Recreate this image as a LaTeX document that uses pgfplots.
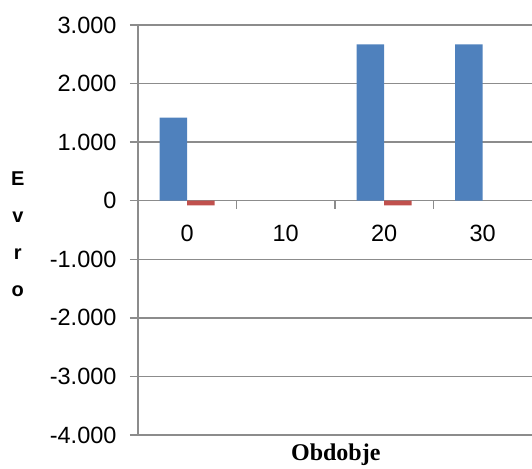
\documentclass[border=0pt]{standalone}
\usepackage{fontspec}
\setmainfont{Liberation Sans}
\newfontfamily\serifb{Liberation Serif}
\usepackage{pgfplots}
\pgfplotsset{compat=1.18}
\definecolor{xblue}{HTML}{4F81BD}
\definecolor{xred}{HTML}{C0504D}
\definecolor{xgrid}{HTML}{8C8C8C}
\begin{document}
\begin{tikzpicture}
\begin{axis}[
  at={(0,0)}, anchor=south west,
  scale only axis, width=394pt, height=410pt,
  xmin=-0.5, xmax=3.5, ymin=-4000, ymax=3000,
  ybar=0pt, bar width=27.5pt,
  axis x line*=middle, axis y line*=left,
  axis line style={xgrid, line width=1.3pt},
  ytick={-4000,-3000,-2000,-1000,0,1000,2000,3000},
  yticklabels={-4.000,-3.000,-2.000,-1.000,0,1.000,2.000,3.000},
  xtick={0,1,2,3}, xticklabels={0,10,20,30},
  minor xtick={0.5,1.5,2.5},
  tick style={xgrid, line width=1.3pt},
  major x tick style={draw=none},
  minor x tick style={draw=xgrid, line width=1.3pt},
  major tick length=8pt, minor tick length=8pt, tick align=outside,
  ymajorgrids, grid style={xgrid, line width=1.3pt},
  tick label style={font=\fontsize{23.5}{27}\selectfont},
  xticklabel style={yshift=-13pt},
  yticklabel style={xshift=-10pt},
  ylabel={E\\v\\r\\o},
  ylabel style={at={(axis description cs:-0.305,0.49)}, anchor=center, rotate=-90, align=center, font=\bfseries\fontsize{20}{37}\selectfont},
  xlabel={Obdobje},
  xlabel style={at={(axis description cs:0.502,0)}, anchor=center, yshift=-20pt, font=\serifb\bfseries\fontsize{24}{28}\selectfont},
]
\addplot[fill=xblue, draw=none] coordinates {(0,1420) (2,2670) (3,2670)};
\addplot[fill=xred, draw=none] coordinates {(0,-80) (2,-80)};
\end{axis}
\pgfresetboundingbox
\useasboundingbox (-138pt,-33pt) rectangle (394pt,435pt);
\end{tikzpicture}
\end{document}
